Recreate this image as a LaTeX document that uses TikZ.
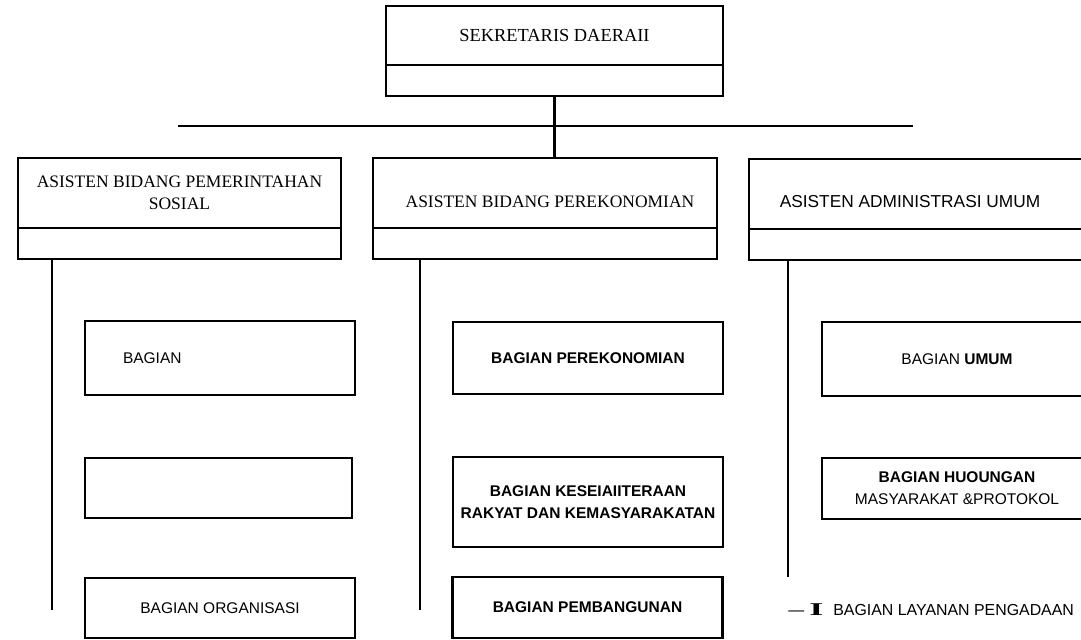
\documentclass[tikz,border=0pt]{standalone}
\usepackage{fontspec}
\setmainfont{Liberation Serif}
\setsansfont{Liberation Sans}
\usepackage{tikz}
\usetikzlibrary{positioning}

\begin{document}
\begin{tikzpicture}[
    x=0.5pt, y=-0.5pt,
    Hbox/.style={draw=black, line width=1pt, inner sep=0pt, outer sep=0pt, align=center},
    Bbox/.style={draw=black, line width=1pt, inner sep=0pt, outer sep=0pt, align=center,
                 minimum width=135pt},
    Bthick/.style={line width=1.4pt},
    Hlbl/.style={font=\fontsize{8.75}{11}\selectfont},
    Slbl/.style={font=\sffamily\fontsize{8.65}{11}\selectfont},
    Blbl/.style={font=\sffamily\fontsize{7.75}{11}\selectfont, inner sep=0pt},
    ln/.style={line width=1pt},
    bus/.style={line width=1.3pt},
]
\clip (0,0) rectangle (1081,639);
% sekretaris
\node[Hbox, font=\fontsize{9.2}{11}\selectfont, minimum width=168.5pt, minimum height=29.5pt] (sek) at (554.5,35.5) {SEKRETARIS DAERAII};
\node[Hbox, minimum width=168.5pt, minimum height=15.5pt, below=0pt of sek] (sekb) {};
\coordinate (busL) at (178,126);
\coordinate (busR) at (913,126);
\draw[bus] (busL) -- (busR);
% asisten
\node[Hbox, Hlbl, minimum width=161.5pt, minimum height=35pt] (pem) at (179.5,193) {ASISTEN BIDANG PEMERINTAHAN\\SOSIAL};
\node[Hbox, minimum width=161.5pt, minimum height=15.5pt, below=0pt of pem] (pemb) {};
\node[Hbox, minimum width=172pt, minimum height=35pt] (ekon) at (545,193) {};
\node[Hlbl, inner sep=0pt] (ekonT) at (550,202) {ASISTEN BIDANG PEREKONOMIAN};
\node[Hbox, minimum width=172pt, minimum height=15.5pt, below=0pt of ekon] (ekonb) {};
\node[Hbox, minimum width=170.5pt, minimum height=35pt] (adm) at (919.5,194) {};
\node[Slbl, inner sep=0pt] (admT) at (910,202) {ASISTEN ADMINISTRASI UMUM};
\node[Hbox, minimum width=170.5pt, minimum height=15.5pt, below=0pt of adm] (admb) {};
\draw[line width=1.5pt] (sekb.south) -- (sekb.south |- ekon.north);
% garis bagian
\coordinate (pemE) at (52,610);
\coordinate (ekonE) at (420,610);
\coordinate (admE) at (788,577);
\draw[ln] (pemE |- pemb.south) -- (pemE);
\draw[ln] (ekonE |- ekonb.south) -- (ekonE);
\draw[ln] (admE |- admb.south) -- (admE);
% bagian pemerintahan
\node[Bbox, Blbl, minimum height=37pt, text width=97pt, inner xsep=19pt, align=left] (bag1) at (220,358) {BAGIAN};
\node[Bbox, minimum width=133.5pt, minimum height=30pt] (bag2) at (218.5,488) {};
\draw[Bthick] (bag2.north east) -- (bag2.south east);
\node[Bbox, Bthick, Blbl, minimum height=30pt] (bag3) at (220,608) {BAGIAN ORGANISASI};
% bagian perekonomian
\node[Bbox, Blbl, minimum height=36pt] (eko1) at (588,358) {\bfseries BAGIAN PEREKONOMIAN};
\node[Bbox, Bthick, Blbl, minimum height=45pt] (eko2) at (588,502) {\bfseries BAGIAN KESEIAIITERAAN\\\bfseries RAKYAT DAN KEMASYARAKATAN};
\node[Bbox, Bthick, Blbl, minimum height=30.5pt] (eko3) at (587.5,607.5) {\bfseries BAGIAN PEMBANGUNAN};
% bagian administrasi
\node[Bbox, Blbl, minimum height=37pt] (adm1) at (957,359) {BAGIAN \textbf{UMUM}};
\node[Bbox, Bthick, Blbl, minimum height=30.5pt] (adm2) at (957,488.5) {\bfseries BAGIAN HUOUNGAN\\MASYARAKAT \&PROTOKOL};
\node[Blbl, font=\sffamily\fontsize{7.95}{11}\selectfont, anchor=west] (lay) at (788,610) {\textemdash\hspace{2.5pt}\scalebox{2}[1]{\rmfamily\fontsize{9}{9}\selectfont\bfseries I}\hspace{5pt}BAGIAN LAYANAN PENGADAAN};
\end{tikzpicture}
\end{document}
